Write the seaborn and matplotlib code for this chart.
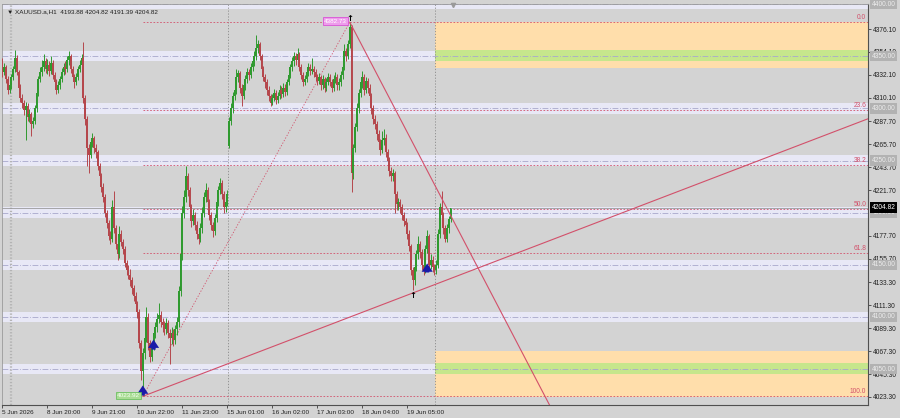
import numpy as np
import pandas as pd
import matplotlib
matplotlib.use("Agg")
import matplotlib.pyplot as plt
import matplotlib.transforms as mtransforms
import seaborn as sns

# ---------------- data ----------------
symbol_header = "XAUUSD.a,H1  4193.88 4204.82 4191.39 4204.82"
first_open = 4345.0
open_overrides = {126: 4264.0}   # weekend gap

closes = [
    4335, 4340, 4328, 4318, 4322, 4330, 4338, 4348, 4335, 4320,
    4310, 4305, 4298, 4302, 4292, 4295, 4285, 4288, 4300, 4315,
    4328, 4335, 4340, 4345, 4338, 4342, 4336, 4344, 4332, 4325,
    4318, 4322, 4328, 4335, 4340, 4338, 4346, 4350, 4338, 4330,
    4325, 4330, 4338, 4342, 4348, 4310, 4290, 4262, 4255, 4268,
    4272, 4262, 4258, 4245, 4235, 4225, 4215, 4200, 4190, 4178,
    4175, 4205, 4185, 4170, 4160, 4180, 4172, 4165, 4152, 4145,
    4140, 4135, 4128, 4120, 4112, 4105, 4075, 4048, 4065, 4080,
    4100, 4075, 4062, 4072, 4085, 4090, 4098, 4102, 4095, 4092,
    4088, 4094, 4085, 4080, 4085, 4078, 4088, 4095, 4125, 4160,
    4200, 4215, 4235, 4222, 4205, 4192, 4198, 4188, 4180, 4175,
    4185, 4200, 4215, 4222, 4210, 4198, 4188, 4182, 4195, 4210,
    4222, 4228, 4218, 4205, 4210, 4218, 4288, 4300, 4312, 4318,
    4330, 4334, 4320, 4312, 4322, 4328, 4335, 4332, 4340, 4345,
    4350, 4358, 4362, 4350, 4338, 4330, 4325, 4318, 4312, 4305,
    4310, 4315, 4308, 4312, 4318, 4314, 4320, 4316, 4325, 4332,
    4340, 4345, 4350, 4346, 4352, 4340, 4332, 4325, 4328, 4335,
    4340, 4336, 4338, 4335, 4330, 4326, 4330, 4322, 4328, 4320,
    4325, 4330, 4325, 4320, 4328, 4330, 4322, 4325, 4332, 4340,
    4355, 4350, 4362, 4378, 4238, 4262, 4282, 4300, 4315, 4325,
    4330, 4318, 4326, 4320, 4312, 4300, 4290, 4285, 4275, 4268,
    4260, 4270, 4272, 4258, 4250, 4240, 4235, 4238, 4218, 4208,
    4210, 4205, 4198, 4192, 4188, 4180, 4168, 4145, 4135, 4148,
    4160, 4170, 4162, 4150, 4145, 4165, 4178, 4150, 4155, 4148,
    4145, 4150, 4180, 4205, 4198, 4185, 4175, 4185, 4193.88, 4204.82,
]
highs = [
    4348, 4344, 4342, 4331, 4326, 4333, 4341, 4356, 4351, 4337,
    4323, 4314, 4308, 4306, 4305, 4299, 4297, 4292, 4303, 4318,
    4331, 4340, 4346, 4352, 4348, 4347, 4345, 4350, 4346, 4335,
    4328, 4326, 4331, 4339, 4344, 4345, 4350, 4355, 4352, 4341,
    4333, 4334, 4341, 4346, 4352, 4364, 4313, 4293, 4266, 4271,
    4276, 4274, 4266, 4260, 4248, 4238, 4228, 4218, 4203, 4193,
    4182, 4212, 4221, 4188, 4173, 4187, 4183, 4175, 4168, 4155,
    4150, 4146, 4138, 4131, 4124, 4115, 4108, 4078, 4070, 4090,
    4110, 4104, 4078, 4076, 4090, 4095, 4104, 4113, 4106, 4099,
    4096, 4099, 4097, 4088, 4090, 4088, 4092, 4100, 4130, 4165,
    4206, 4222, 4245, 4238, 4225, 4208, 4204, 4201, 4192, 4184,
    4190, 4205, 4220, 4228, 4225, 4213, 4201, 4191, 4199, 4214,
    4226, 4233, 4231, 4221, 4215, 4222, 4292, 4305, 4316, 4323,
    4338, 4337, 4336, 4323, 4326, 4332, 4339, 4338, 4344, 4349,
    4355, 4370, 4366, 4364, 4352, 4341, 4333, 4328, 4321, 4314,
    4314, 4319, 4318, 4316, 4322, 4321, 4324, 4323, 4328, 4336,
    4343, 4349, 4354, 4353, 4358, 4354, 4343, 4335, 4332, 4339,
    4344, 4343, 4348, 4341, 4338, 4333, 4334, 4332, 4332, 4330,
    4329, 4334, 4333, 4328, 4332, 4335, 4333, 4329, 4336, 4344,
    4362, 4358, 4366, 4382.73, 4380, 4266, 4286, 4305, 4319, 4330,
    4336, 4333, 4330, 4329, 4323, 4315, 4303, 4294, 4288, 4279,
    4271, 4278, 4280, 4275, 4261, 4253, 4244, 4242, 4240, 4221,
    4214, 4213, 4208, 4201, 4195, 4191, 4183, 4170, 4148, 4152,
    4164, 4178, 4173, 4165, 4153, 4169, 4183, 4180, 4160, 4158,
    4151, 4155, 4184, 4209, 4221, 4201, 4188, 4189, 4197, 4204.82,
]
lows = [
    4330, 4332, 4324, 4314, 4315, 4319, 4327, 4335, 4332, 4316,
    4306, 4300, 4294, 4270, 4288, 4287, 4274, 4281, 4285, 4297,
    4312, 4325, 4331, 4336, 4334, 4333, 4331, 4333, 4328, 4321,
    4314, 4315, 4319, 4325, 4332, 4333, 4335, 4342, 4334, 4326,
    4320, 4322, 4327, 4335, 4339, 4305, 4284, 4245, 4238, 4252,
    4263, 4257, 4252, 4241, 4230, 4220, 4210, 4196, 4185, 4174,
    4170, 4172, 4181, 4165, 4155, 4157, 4168, 4160, 4148, 4140,
    4136, 4130, 4122, 4115, 4107, 4099, 4070, 4040, 4023.92, 4060,
    4076, 4068, 4057, 4058, 4068, 4080, 4086, 4094, 4090, 4086,
    4083, 4084, 4080, 4055, 4074, 4072, 4074, 4083, 4090, 4120,
    4155, 4195, 4210, 4216, 4200, 4186, 4188, 4183, 4175, 4170,
    4172, 4181, 4196, 4210, 4205, 4193, 4183, 4177, 4179, 4191,
    4206, 4218, 4213, 4200, 4201, 4206, 4262, 4284, 4296, 4308,
    4314, 4325, 4315, 4302, 4309, 4318, 4324, 4327, 4329, 4336,
    4341, 4346, 4353, 4346, 4334, 4326, 4320, 4313, 4307, 4302,
    4303, 4307, 4304, 4305, 4309, 4310, 4311, 4312, 4313, 4322,
    4329, 4336, 4341, 4342, 4343, 4336, 4328, 4321, 4322, 4325,
    4331, 4332, 4333, 4330, 4326, 4322, 4323, 4318, 4319, 4316,
    4317, 4322, 4321, 4316, 4317, 4324, 4318, 4318, 4321, 4328,
    4337, 4345, 4347, 4358, 4220, 4232, 4258, 4278, 4296, 4311,
    4320, 4313, 4315, 4315, 4307, 4295, 4285, 4280, 4270, 4263,
    4255, 4257, 4265, 4253, 4245, 4235, 4230, 4230, 4200, 4203,
    4203, 4200, 4193, 4187, 4183, 4175, 4163, 4140, 4126, 4131,
    4144, 4156, 4157, 4145, 4140, 4142, 4161, 4146, 4146, 4143,
    4140, 4141, 4147, 4176, 4194, 4180, 4172, 4172, 4181, 4191.39,
]

time_labels = ["5 Jun 2026", "8 Jun 20:00", "9 Jun 21:00", "10 Jun 22:00", "11 Jun 23:00",
               "15 Jun 01:00", "16 Jun 02:00", "17 Jun 03:00", "18 Jun 04:00", "19 Jun 05:00"]
time_label_bars = [0, 25, 50, 75, 100, 125, 150, 175, 200, 225]
price_ticks = [4376.10, 4354.10, 4332.10, 4310.10, 4287.70, 4265.70, 4243.70, 4221.70,
               4177.70, 4155.70, 4133.30, 4111.30, 4089.30, 4067.30, 4045.30, 4023.30]
round_levels = [4400, 4350, 4300, 4250, 4200, 4150, 4100, 4050]
band_half = 5.0
swing_low = (78, 4023.92)
swing_high = (193, 4382.73)
fib_ratios = [0.0, 23.6, 38.2, 50.0, 61.8, 100.0]
support_point = (228, 4123.0)
resist_point = (244, 4214.0)
supply_zone = (4339.0, 4383.0)
supply_core = (4345.0, 4356.0)
demand_zone = (4023.3, 4067.5)
demand_core = (4045.3, 4055.8)
zone_start_bar = 240.5
separator_bars = [125.5, 240.5]
blue_signals = [(78, 4022.0, 4037.0), (84, 4066.0, 4081.0), (236, 4140.0, 4154.0)]
black_signals = [(228, 4121.0), (193, 4386.0)]
last_price = 4204.82

# ---------------- style ----------------
BG = "#d3d3d3"
GREEN = "#2f9a2f"
RED = "#b5474c"
FIB = "#d2506a"
sns.set_style("white", {"axes.facecolor": BG, "figure.facecolor": BG})
plt.rcParams["font.family"] = ["Liberation Sans", "DejaVu Sans"]

fig = plt.figure(figsize=(9, 4.18), dpi=100)
ax = fig.add_axes([2 / 900, 13 / 418, 866 / 900, 401 / 418])
ax.set_facecolor(BG)
XL = (-0.2, 480.9)
YL = (4015.6, 4400.1)
ax.set_xlim(*XL)
ax.set_ylim(*YL)

# round-number bands
for lv in round_levels:
    ax.axhspan(lv - band_half, lv + band_half, color="#e8e8f6", lw=0, zorder=0.5)

# zones
zx = [zone_start_bar, XL[1]]
ax.fill_between(zx, *supply_zone, color="#ffdeab", lw=0, zorder=0.8)
ax.fill_between(zx, *supply_core, color="#c6e68c", lw=0, zorder=0.9)
ax.fill_between(zx, *demand_zone, color="#ffdeab", lw=0, zorder=0.8)
ax.fill_between(zx, *demand_core, color="#c6e68c", lw=0, zorder=0.9)

for lv in round_levels:
    ax.axhline(lv, color="#a8a8cc", lw=0.6, dashes=(7, 2, 1, 2), zorder=1)

# separators
for sb in separator_bars:
    ax.axvline(sb, color="#8a8a8a", lw=0.6, ls=(0, (1.5, 2)), zorder=1)
ax.axvline(4.8, color="#b4b4b4", lw=1.6, ls=(0, (0.6, 0.8)), zorder=1)

# bid line
ax.axhline(last_price, color="#9a9a9a", lw=0.6, zorder=1.1)

# fibonacci
lo_b, lo_p = swing_low
hi_b, hi_p = swing_high
for r in fib_ratios:
    lv = hi_p - r / 100 * (hi_p - lo_p)
    ax.plot([lo_b, XL[1]], [lv, lv], color=FIB, lw=0.6, ls=(0, (2, 2)), zorder=1.2)
    ax.text(XL[1] - 1, lv + 1.0, f"{r:.1f}", color=FIB, fontsize=4.8, ha="right", va="bottom", zorder=5)
sns.lineplot(x=[lo_b, hi_b], y=[lo_p, hi_p], ax=ax, color=FIB, lw=0.6, ls=(0, (1.5, 2)), zorder=1.2)

# candles
n = len(closes)
opens = [first_open] + closes[:-1]
for k, v in open_overrides.items():
    opens[k] = v
df = pd.DataFrame({"bar": np.arange(n), "open": opens, "high": highs, "low": lows, "close": closes})
df["color"] = np.where(df["close"] >= df["open"], GREEN, RED)
ax.vlines(df["bar"], df["low"], df["high"], colors=df["color"], lw=0.7, zorder=3)
body = (df["close"] - df["open"]).abs().clip(lower=0.8)
ax.bar(df["bar"], body, bottom=np.minimum(df["open"], df["close"]), width=1.0,
       color=df["color"], lw=0, zorder=3)

# trend lines
s_up = (support_point[1] - lo_p) / (support_point[0] - lo_b)
sns.lineplot(x=[lo_b, XL[1]], y=[lo_p, lo_p + s_up * (XL[1] - lo_b)], ax=ax, color=FIB, lw=0.8, zorder=4)
s_dn = (resist_point[1] - hi_p) / (resist_point[0] - hi_b)
end_b = 330
sns.lineplot(x=[hi_b, end_b], y=[hi_p, hi_p + s_dn * (end_b - hi_b)], ax=ax, color=FIB, lw=0.8, zorder=4)

# signals
for b, p0, p1 in blue_signals:
    ax.annotate("", xy=(b, p1), xytext=(b, p0),
                arrowprops=dict(arrowstyle="simple,head_width=0.8,head_length=0.6,tail_width=0.3",
                                color="#1a1aa8", lw=0), zorder=6)
for b, p in black_signals:
    ax.text(b, p, "↑", fontsize=6, color="black", ha="center", va="center",
            fontweight="bold", family="DejaVu Sans", zorder=6)

# price tags
ax.text(lo_b - 1.5, lo_p + 1, f"{lo_p:.2f}", fontsize=4.6, color="#f4fff0", ha="right", va="center",
        bbox=dict(boxstyle="square,pad=0.2", fc="#a9dc94", ec="#5cbc50", lw=0.5), zorder=6)
ax.text(hi_b - 1.5, hi_p + 1, f"{hi_p:.2f}", fontsize=4.6, color="#ffffff", ha="right", va="center",
        bbox=dict(boxstyle="square,pad=0.2", fc="#ee9cec", ec="#d640d4", lw=0.5), zorder=6)

# axes
ax.yaxis.tick_right()
ax.set_yticks(price_ticks)
ax.set_yticklabels([f"{v:.2f}" for v in price_ticks])
ax.set_xticks(time_label_bars)
ax.set_xticklabels(time_labels, ha="left")
ax.tick_params(axis="y", labelsize=4.8, length=2, width=0.5, pad=1.5, colors="#202020", right=True, left=False)
ax.tick_params(axis="x", labelsize=4.6, length=2, width=0.5, pad=1.5, colors="#202020", bottom=True)
for side in ["right", "bottom"]:
    ax.spines[side].set_color("#505050")
    ax.spines[side].set_linewidth(0.8)
for side in ["top", "left"]:
    ax.spines[side].set_color("#9a9a9a")
    ax.spines[side].set_linewidth(0.6)

tr = mtransforms.blended_transform_factory(ax.transAxes, ax.transData)
for lv in round_levels:
    ax.text(1.004, lv, f"{lv:.2f}", transform=tr, fontsize=4.8, color="#ececec", ha="left", va="center",
            bbox=dict(boxstyle="square,pad=0.25", fc="#b2b2b2", ec="none"), clip_on=False, zorder=7)
ax.text(1.004, last_price, f"{last_price:.2f}", transform=tr, fontsize=4.8, color="white", ha="left",
        va="center", bbox=dict(boxstyle="square,pad=0.25", fc="black", ec="none"), clip_on=False, zorder=8)

# header
ax.text(0.006, 0.988, "▼ " + symbol_header, transform=ax.transAxes, fontsize=4.6, color="#202020",
        ha="left", va="top", family=["Liberation Sans", "DejaVu Sans"], zorder=8)
ax.plot([250.5], [4399], marker="v", ms=3, color="#9a9a9a", zorder=8, clip_on=False)

fig.savefig("out.png", dpi=100, facecolor=BG)
